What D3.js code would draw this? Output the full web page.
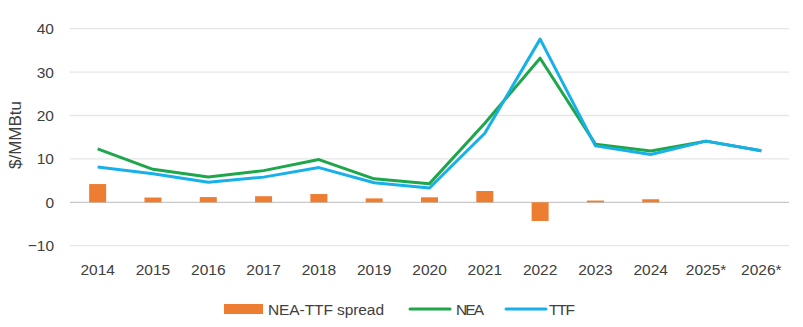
<!DOCTYPE html>
<html lang="en">
    <head>
        <meta charset="utf-8">
        <title>NEA vs TTF</title>
        <script src="https://d3js.org/d3.v7.min.js"></script>
        <style type="text/css">
            body { margin: 0; background: #fff; }
            text { font-family: "Liberation Sans", sans-serif; fill: #404040; }
        </style>
    </head>
    <body>
        <svg id="chart" width="803" height="327"></svg>
        <script>
            // data
            var years = ['2014', '2015', '2016', '2017', '2018', '2019', '2020', '2021', '2022', '2023', '2024', '2025*', '2026*'];
            var nea = [12.3, 7.6, 5.85, 7.3, 9.85, 5.4, 4.3, 18.2, 33.2, 13.4, 11.8, 14.1, 11.9];
            var ttf = [8.15, 6.6, 4.6, 5.8, 8.0, 4.5, 3.3, 15.9, 37.6, 13.0, 11.0, 14.1, 11.9];
            var spread = [4.2, 1.1, 1.2, 1.4, 1.9, 0.9, 1.15, 2.6, -4.3, 0.4, 0.7, null, null];
            var yTicks = [-10, 0, 10, 20, 30, 40];

            var svg = d3.select('#chart');
            var left = 70, right = 789;

            var x = d3.scaleBand().domain(years).range([left, right]);
            var y = d3.scaleLinear().domain([-10, 40]).range([245.7, 28.7]);

            //gridlines
            svg.append('g').selectAll('line')
               .data(yTicks)
               .enter()
               .append('line')
               .attr('x1', left).attr('x2', right)
               .attr('y1', function(d) { return y(d); })
               .attr('y2', function(d) { return y(d); })
               .attr('stroke', function(d) { return d === 0 ? '#c8c8c8' : '#e6e6e6'; })
               .attr('stroke-width', 1.3);

            //y axis labels
            var yAxis = d3.axisLeft(y).tickValues(yTicks).tickSize(0).tickPadding(0);
            var yg = svg.append('g')
                .attr('transform', 'translate(54,0)')
                .call(yAxis);
            yg.select('.domain').remove();
            yg.selectAll('text').style('font-size', '15.5px').attr('fill', '#404040');

            svg.append('text')
               .attr('transform', 'translate(21,135) rotate(-90)')
               .attr('text-anchor', 'middle')
               .style('font-size', '17px')
               .text('$/MMBtu');

            //x axis labels
            var xAxis = d3.axisBottom(x).tickSize(0).tickPadding(0);
            var xg = svg.append('g')
                .attr('transform', 'translate(0,264)')
                .call(xAxis);
            xg.select('.domain').remove();
            xg.selectAll('text').style('font-size', '15.5px').attr('fill', '#404040');

            //spread bars
            var bw = 17;
            svg.append('g').selectAll('rect')
               .data(years.map(function(yr, i) { return { yr: yr, v: spread[i] }; }).filter(function(d) { return d.v !== null; }))
               .enter()
               .append('rect')
               .attr('x', function(d) { return x(d.yr) + x.bandwidth() / 2 - bw / 2; })
               .attr('width', bw)
               .attr('y', function(d) { return y(Math.max(0, d.v)); })
               .attr('height', function(d) { return Math.abs(y(d.v) - y(0)); })
               .attr('fill', '#ed7d31');

            //lines
            var line = d3.line()
                .x(function(d, i) { return x(years[i]) + x.bandwidth() / 2; })
                .y(function(d) { return y(d); });

            svg.append('path')
               .datum(nea)
               .attr('d', line)
               .attr('fill', 'none')
               .attr('stroke', '#1ea64b')
               .attr('stroke-width', 3)
               .attr('stroke-linejoin', 'round');

            svg.append('path')
               .datum(ttf)
               .attr('d', line)
               .attr('fill', 'none')
               .attr('stroke', '#17b0ea')
               .attr('stroke-width', 3)
               .attr('stroke-linejoin', 'round');

            //legend
            var lg = svg.append('g').style('font-size', '15.5px');
            lg.append('rect').attr('x', 224).attr('y', 304).attr('width', 39).attr('height', 10).attr('fill', '#ed7d31');
            lg.append('text').attr('x', 268).attr('y', 314.5).attr('textLength', 116).text('NEA-TTF spread');
            lg.append('line').attr('x1', 410).attr('x2', 450).attr('y1', 309).attr('y2', 309)
              .attr('stroke', '#1ea64b').attr('stroke-width', 3).attr('stroke-linecap', 'round');
            lg.append('text').attr('x', 456).attr('y', 314.5).attr('textLength', 28).text('NEA');
            lg.append('line').attr('x1', 506).attr('x2', 546).attr('y1', 309).attr('y2', 309)
              .attr('stroke', '#17b0ea').attr('stroke-width', 3).attr('stroke-linecap', 'round');
            lg.append('text').attr('x', 549).attr('y', 314.5).attr('textLength', 26).text('TTF');
        </script>
    </body>
</html>
